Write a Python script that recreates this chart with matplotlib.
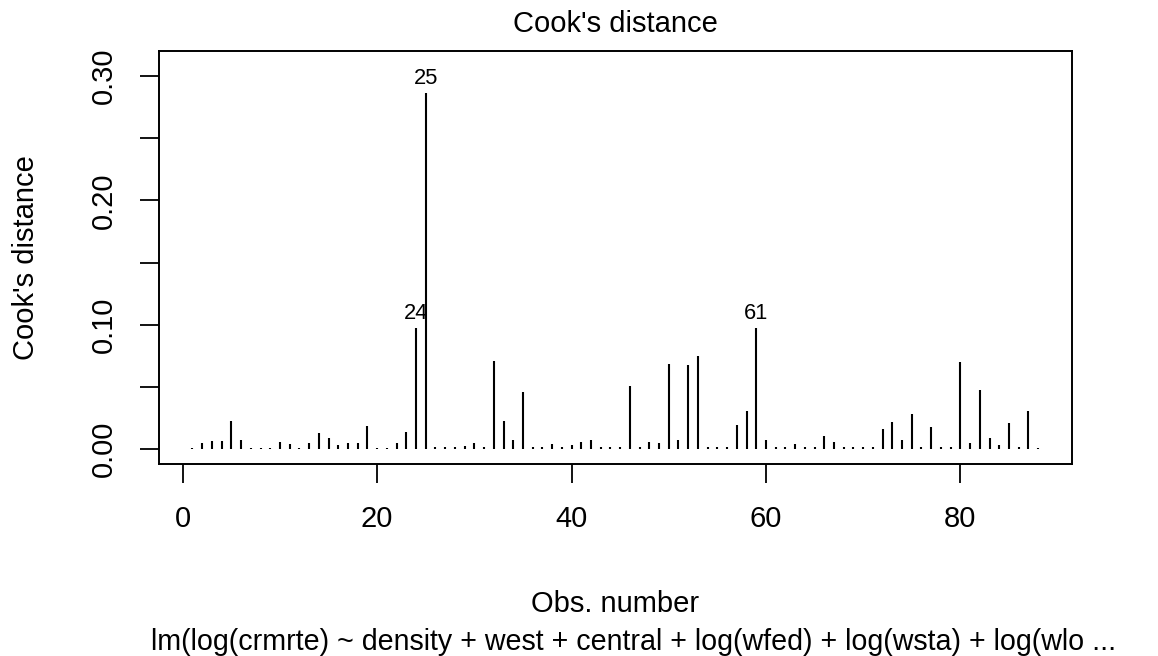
import numpy as np
import matplotlib
matplotlib.use('Agg')
import matplotlib.pyplot as plt

plt.rcParams['font.family'] = ['Liberation Sans', 'DejaVu Sans']

obs = np.arange(1, 89)
cook = [0.0012, 0.0046, 0.0062, 0.0062, 0.0223, 0.0075, 0.0010, 0.0010, 0.0010, 0.0059,
        0.0043, 0.0012, 0.0046, 0.0129, 0.0088, 0.0030, 0.0046, 0.0046, 0.0182, 0.0012,
        0.0012, 0.0048, 0.0134, 0.0976, 0.2865, 0.0020, 0.0020, 0.0020, 0.0025, 0.0048,
        0.0020, 0.0710, 0.0228, 0.0072, 0.0456, 0.0015, 0.0020, 0.0038, 0.0015, 0.0035,
        0.0059, 0.0070, 0.0015, 0.0015, 0.0015, 0.0507, 0.0015, 0.0059, 0.0046, 0.0684,
        0.0075, 0.0678, 0.0745, 0.0015, 0.0015, 0.0020, 0.0193, 0.0303, 0.0976, 0.0072,
        0.0015, 0.0015, 0.0040, 0.0020, 0.0020, 0.0102, 0.0054, 0.0015, 0.0015, 0.0015,
        0.0020, 0.0161, 0.0214, 0.0070, 0.0282, 0.0015, 0.0180, 0.0015, 0.0015, 0.0700,
        0.0048, 0.0477, 0.0086, 0.0035, 0.0212, 0.0015, 0.0303, 0.0012]
# the three largest get their row names
lab_obs = [24, 25, 59]
lab_txt = ['24', '25', '61']
xticks = [0, 20, 40, 60, 80]
yticks = [0.00, 0.05, 0.10, 0.15, 0.20, 0.25, 0.30]
ytick_labels = ['0.00', '', '0.10', '', '0.20', '', '0.30']

fs = 21
fig = plt.figure(figsize=(11.58, 6.56), dpi=100)
ax = fig.add_axes([0.1370, 0.2921, 0.7887, 0.6306])

ax.vlines(obs, 0, cook, color='black', lw=1.5)
ymx = max(cook) * 1.075
for o, t in zip(lab_obs, lab_txt):
    ax.annotate(t, (o, cook[o - 1]), xytext=(0, 6), textcoords='offset points',
                ha='center', va='baseline', fontsize=fs * 0.75)

# R-style 4% axis extension
xr = obs[-1] - obs[0]
ax.set_xlim(obs[0] - 0.04 * xr, obs[-1] + 0.04 * xr)
ax.set_ylim(-0.04 * ymx, 1.04 * ymx)

ax.set_xticks(xticks)
ax.set_xticklabels([str(v) for v in xticks])
ax.set_yticks(yticks)
ax.set_yticklabels(ytick_labels, rotation=90, va='center')
ax.tick_params(direction='out', length=14, width=1.3, labelsize=fs, colors='black')
ax.tick_params(axis='x', pad=15)
ax.tick_params(axis='y', pad=15)
for s in ax.spines.values():
    s.set_linewidth(1.4)

pos = ax.get_position()
xc = pos.x0 + pos.width / 2
fig.text(xc, 1 - 32 / 656, "Cook's distance", ha='center', va='baseline', fontsize=fs)
fig.text(xc, 1 - 612 / 656, 'Obs. number', ha='center', va='baseline', fontsize=fs)
fig.text(634 / 1158, 1 - 650 / 656,
         'lm(log(crmrte) ~ density + west + central + log(wfed) + log(wsta) + log(wlo ...',
         ha='center', va='baseline', fontsize=20.6)
fig.text(26 / 1158, pos.y0 + pos.height / 2, "Cook's distance",
         ha='center', va='center', rotation=90, fontsize=fs)

fig.savefig('out.png', dpi=100)
